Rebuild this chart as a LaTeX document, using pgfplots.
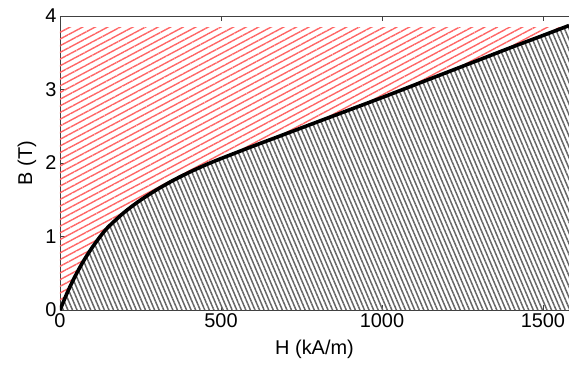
\documentclass[border=0pt]{standalone}
\usepackage{fontspec}
\setmainfont{Liberation Sans}
\usepackage{pgfplots}
\usepackage{pgfplotstable}
\pgfplotsset{compat=1.18}
\usetikzlibrary{patterns.meta}

\pgfplotstableread{
H B
0 0
25 0.26
50 0.485
75 0.68
100 0.85
125 1.00
150 1.13
200 1.33
250 1.495
300 1.635
350 1.76
400 1.87
450 1.97
500 2.06
600 2.23
700 2.395
800 2.56
900 2.725
1000 2.89
1100 3.06
1200 3.23
1300 3.40
1400 3.57
1500 3.735
1581 3.87
}\curvedata

\pgfplotstableread{
H B
0 0
25 0.26
50 0.485
75 0.68
100 0.85
125 1.00
150 1.13
200 1.33
250 1.495
300 1.635
350 1.76
400 1.87
450 1.97
500 2.06
600 2.23
700 2.395
800 2.56
900 2.725
1000 2.89
1100 3.06
1200 3.23
1300 3.40
1400 3.57
1500 3.735
1570 3.85
}\redcurve

\begin{document}
\begin{tikzpicture}
\begin{axis}[
  at={(0,0)}, anchor=south west,
  scale only axis, width=509bp, height=294bp,
  xmin=0, xmax=1581, ymin=0, ymax=4,
  axis x line=box, axis y line=left,
  axis line style={-, line width=0.6bp, black!75},
  xtick={0,500,1000,1500}, ytick={0,1,2,3,4},
  tick style={black!75, line width=0.6bp},
  major tick length=5bp,
  tick align=inside,
  /pgf/number format/1000 sep={},
  /pgf/number format/assume math mode=true,
  ticklabel style={font=\fontsize{20}{24}\selectfont},
  label style={font=\fontsize{20}{24}\selectfont},
  xlabel={H (kA/m)}, ylabel={B (T)},
  xlabel style={at={(axis description cs:0.5,-0.153)}, anchor=base},
  ylabel style={at={(axis description cs:-0.065,0.5)}, anchor=center},
]
\addplot[draw=none, smooth, tension=0.5, pattern={Lines[angle=-67,distance=4.2bp,line width=1.5bp]}, pattern color=black!60] table[x=H,y=B]{\curvedata} \closedcycle;
\addplot[draw=none, smooth, tension=0.5, pattern={Lines[angle=28,distance=5.9bp,line width=1.4bp]}, pattern color=red!60] table[x=H,y=B]{\redcurve} -- (axis cs:0,3.85) -- cycle;
\addplot[black, smooth, tension=0.5, line width=3.6bp, line join=round] table[x=H,y=B]{\curvedata};
\end{axis}
\pgfresetboundingbox
\path[use as bounding box] (-60bp,-55bp) rectangle (509bp,310bp);
\end{tikzpicture}
\end{document}
